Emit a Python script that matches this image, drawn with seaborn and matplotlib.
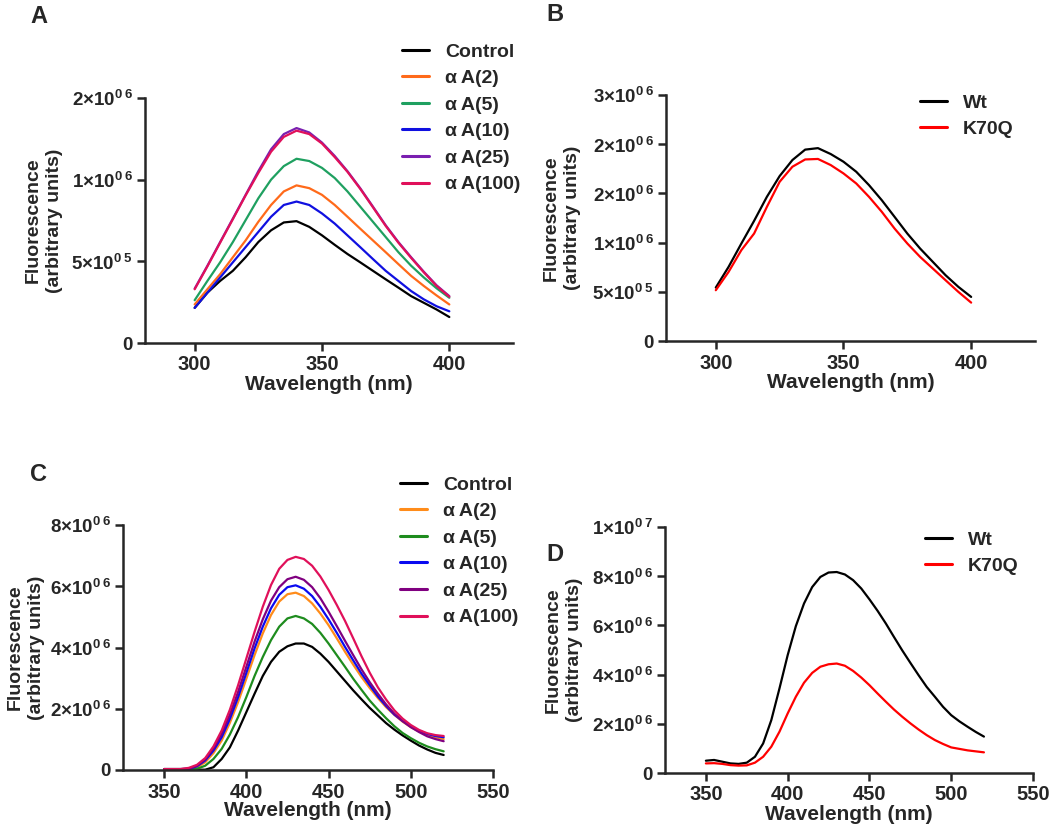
import numpy as np
import pandas as pd
import matplotlib
matplotlib.use('Agg')
import matplotlib.pyplot as plt
import seaborn as sns

# ---- data ----
wl_ab = list(range(300, 401, 5))
wl_cd = list(range(350, 521, 5))

labels_six = ['Control', 'α\u2009A(2)', 'α\u2009A(5)', 'α\u2009A(10)', 'α\u2009A(25)', 'α\u2009A(100)']
labels_two = ['Wt', 'K70Q']

# panel A, values in thousands
a_control = [215, 308, 380, 442, 525, 618, 690, 738, 746, 711, 659, 601, 545, 494, 442, 390, 339, 287, 246, 205, 159]
a_aa2 = [236, 329, 421, 525, 628, 742, 845, 928, 965, 948, 907, 845, 773, 700, 628, 556, 483, 411, 349, 291, 236]
a_aa5 = [262, 380, 494, 618, 752, 886, 1000, 1083, 1128, 1114, 1072, 1010, 928, 835, 742, 649, 556, 473, 401, 335, 277]
a_aa10 = [215, 308, 401, 494, 587, 680, 773, 845, 866, 845, 793, 731, 659, 587, 514, 442, 380, 318, 267, 225, 194]
a_aa25 = [333, 473, 618, 762, 907, 1052, 1186, 1279, 1316, 1289, 1227, 1145, 1052, 948, 835, 721, 618, 525, 436, 353, 287]
a_aa100 = [329, 469, 614, 758, 903, 1041, 1171, 1262, 1300, 1279, 1221, 1138, 1048, 944, 831, 717, 614, 521, 432, 349, 283]

# panel B, values in thousands
b_wt = [543, 753, 990, 1221, 1465, 1676, 1839, 1945, 1960, 1900, 1822, 1720, 1584, 1431, 1262, 1092, 940, 804, 668, 550, 448]
b_k70q = [516, 702, 923, 1092, 1363, 1618, 1771, 1845, 1850, 1788, 1703, 1601, 1465, 1313, 1143, 991, 855, 736, 617, 499, 390]

# panel C, values in millions
c_control = [0.03, 0.03, 0.03, 0.02, 0.01, 0.01, 0.09, 0.36, 0.74, 1.29, 1.89, 2.49, 3.07, 3.53, 3.86, 4.04, 4.13, 4.13,
             4.02, 3.80, 3.53, 3.22, 2.91, 2.60, 2.31, 2.03, 1.78, 1.53, 1.32, 1.13, 0.96, 0.80, 0.67, 0.56, 0.49]
c_aa2 = [0.03, 0.03, 0.03, 0.04, 0.09, 0.25, 0.55, 0.96, 1.54, 2.22, 2.98, 3.75, 4.46, 5.06, 5.50, 5.74, 5.79, 5.68,
         5.44, 5.11, 4.73, 4.30, 3.86, 3.44, 3.04, 2.68, 2.35, 2.05, 1.80, 1.58, 1.40, 1.26, 1.15, 1.07, 1.01]
c_aa5 = [0.03, 0.03, 0.03, 0.03, 0.04, 0.14, 0.36, 0.69, 1.16, 1.73, 2.38, 3.07, 3.69, 4.24, 4.68, 4.95, 5.03, 4.95,
         4.77, 4.48, 4.13, 3.75, 3.37, 2.98, 2.62, 2.27, 1.97, 1.69, 1.43, 1.21, 1.04, 0.89, 0.77, 0.68, 0.61]
c_aa10 = [0.03, 0.03, 0.03, 0.04, 0.12, 0.31, 0.63, 1.07, 1.67, 2.38, 3.17, 3.97, 4.68, 5.28, 5.72, 5.97, 6.03, 5.92,
          5.68, 5.33, 4.92, 4.48, 4.02, 3.58, 3.15, 2.77, 2.40, 2.09, 1.81, 1.60, 1.42, 1.28, 1.18, 1.11, 1.07]
c_aa25 = [0.03, 0.03, 0.03, 0.04, 0.14, 0.35, 0.70, 1.18, 1.81, 2.55, 3.37, 4.19, 4.92, 5.53, 5.97, 6.23, 6.31, 6.21,
          5.97, 5.61, 5.17, 4.70, 4.22, 3.75, 3.29, 2.87, 2.49, 2.14, 1.84, 1.60, 1.40, 1.24, 1.10, 1.01, 0.94]
c_aa100 = [0.03, 0.03, 0.03, 0.07, 0.17, 0.39, 0.77, 1.29, 1.97, 2.77, 3.64, 4.51, 5.33, 6.04, 6.57, 6.86, 6.96, 6.89,
           6.67, 6.32, 5.88, 5.39, 4.87, 4.30, 3.72, 3.18, 2.70, 2.30, 1.95, 1.68, 1.47, 1.31, 1.20, 1.14, 1.11]

# panel D, values in millions
d_wt = [0.50, 0.53, 0.46, 0.39, 0.37, 0.42, 0.66, 1.20, 2.15, 3.44, 4.79, 5.97, 6.89, 7.56, 7.97, 8.15, 8.17, 8.07,
        7.84, 7.50, 7.06, 6.59, 6.08, 5.53, 4.99, 4.48, 3.98, 3.50, 3.10, 2.69, 2.35, 2.10, 1.88, 1.67, 1.48]
d_k70q = [0.39, 0.40, 0.37, 0.32, 0.30, 0.31, 0.42, 0.66, 1.07, 1.68, 2.42, 3.10, 3.67, 4.07, 4.32, 4.42, 4.45, 4.36,
          4.15, 3.88, 3.57, 3.23, 2.90, 2.58, 2.29, 2.02, 1.77, 1.54, 1.34, 1.18, 1.04, 0.98, 0.92, 0.88, 0.84]

# y ticks and their (GraphPad-style) labels: (value, mantissa, exponent)
yticks_a = [(0, '0', None), (5e5, '5', '5'), (1e6, '1', '6'), (1.5e6, '2', '6')]
yticks_b = [(0, '0', None), (5e5, '5', '5'), (1e6, '1', '6'), (1.5e6, '2', '6'), (2e6, '2', '6'), (2.5e6, '3', '6')]
yticks_c = [(0, '0', None), (2e6, '2', '6'), (4e6, '4', '6'), (6e6, '6', '6'), (8e6, '8', '6')]
yticks_d = [(0, '0', None), (2e6, '2', '6'), (4e6, '4', '6'), (6e6, '6', '6'), (8e6, '8', '6'), (1e7, '1', '7')]

colors_a = ['#000000', '#FF6A1A', '#1FA060', '#1010E0', '#7A1FB0', '#E0105A']
colors_c = ['#000000', '#FF8C1A', '#1E8C1E', '#0A0AF0', '#800080', '#E0105A']
colors_bd = ['#000000', '#FF0000']

# ---- style ----
sns.set_style('ticks')
plt.rcParams['font.family'] = ['Liberation Sans', 'DejaVu Sans']
plt.rcParams['font.weight'] = 'bold'
plt.rcParams['axes.labelweight'] = 'bold'
plt.rcParams['mathtext.fontset'] = 'custom'
plt.rcParams['mathtext.bf'] = 'Liberation Sans:bold'
plt.rcParams['mathtext.rm'] = 'Liberation Sans:bold'
plt.rcParams['lines.solid_joinstyle'] = 'round'

W, H = 1050, 833


def make_df(wl, series, names, scale):
    rows = []
    for name, vals in zip(names, series):
        for w, v in zip(wl, vals):
            rows.append({'wavelength': w, 'fluorescence': v * scale, 'sample': name})
    return pd.DataFrame(rows)


def tick_label(mant, exp):
    if exp is None:
        return mant
    return mant + '×10$^{\\mathbf{0\\,' + exp + '}}$'


def draw_panel(ax, box, df, names, colors, xlim, xticks, yticks, legend_xy, ylabel_right):
    sns.lineplot(data=df, x='wavelength', y='fluorescence', hue='sample', hue_order=names,
                 palette=colors, linewidth=1.6, errorbar=None, ax=ax)
    ax.set_xlim(*xlim)
    ax.set_ylim(0, yticks[-1][0])
    ax.set_xticks(xticks)
    ax.set_yticks([t[0] for t in yticks])
    ax.set_yticklabels([tick_label(t[1], t[2]) for t in yticks])
    sns.despine(ax=ax)
    for sp in ['left', 'bottom']:
        ax.spines[sp].set_linewidth(1.8)
    ax.tick_params(width=1.8, length=6, pad=3)
    ax.tick_params(axis='x', labelsize=14.5)
    ax.tick_params(axis='y', labelsize=13.5)
    ax.set_xlabel('Wavelength (nm)', fontsize=15, labelpad=0)
    ax.set_ylabel('Fluorescence\n(arbitrary units)', fontsize=14, linespacing=1.3)
    left, right = box[0], box[2]
    ax.yaxis.set_label_coords((ylabel_right - left) / (right - left), 0.5)
    handles, labs = ax.get_legend_handles_labels()
    for h in handles:
        h.set_linewidth(2.2)
    ax.legend(handles, labs, loc='upper left', frameon=False, fontsize=14,
              bbox_to_anchor=(legend_xy[0] / W, 1 - legend_xy[1] / H),
              bbox_transform=fig.transFigure, borderpad=0, borderaxespad=0,
              handlelength=1.4, handletextpad=0.8, labelspacing=0.46)


fig = plt.figure(figsize=(10.5, 8.33), dpi=100)


def add_axes(box):
    left, top, right, bottom = box
    return fig.add_axes([left / W, 1 - bottom / H, (right - left) / W, (bottom - top) / H])


box_a = (145, 98, 513, 343)
box_b = (666, 95, 1035, 341)
box_c = (123, 525, 493, 770)
box_d = (665, 527, 1033, 773)
ax_a, ax_b, ax_c, ax_d = [add_axes(b) for b in (box_a, box_b, box_c, box_d)]

df_a = make_df(wl_ab, [a_control, a_aa2, a_aa5, a_aa10, a_aa25, a_aa100], labels_six, 1e3)
df_b = make_df(wl_ab, [b_wt, b_k70q], labels_two, 1e3)
df_c = make_df(wl_cd, [c_control, c_aa2, c_aa5, c_aa10, c_aa25, c_aa100], labels_six, 1e6)
df_d = make_df(wl_cd, [d_wt, d_k70q], labels_two, 1e6)

draw_panel(ax_a, box_a, df_a, labels_six, colors_a, (280.5, 425), [300, 350, 400], yticks_a, (402, 43), 63)
draw_panel(ax_b, box_b, df_b, labels_two, colors_bd, (280.5, 425), [300, 350, 400], yticks_b, (920, 94), 581)
draw_panel(ax_c, box_c, df_c, labels_six, colors_c, (325, 550), [350, 400, 450, 500, 550], yticks_c, (400, 476), 45)
draw_panel(ax_d, box_d, df_d, labels_two, colors_bd, (325, 550), [350, 400, 450, 500, 550], yticks_d, (925, 531), 583)

for letter, x, y in [('A', 30, 5), ('B', 546, 3), ('C', 30, 463), ('D', 546, 543)]:
    fig.text(x / W, 1 - y / H, letter, fontsize=17, fontweight='bold', va='top', ha='left')

fig.savefig('out.png', dpi=100)
